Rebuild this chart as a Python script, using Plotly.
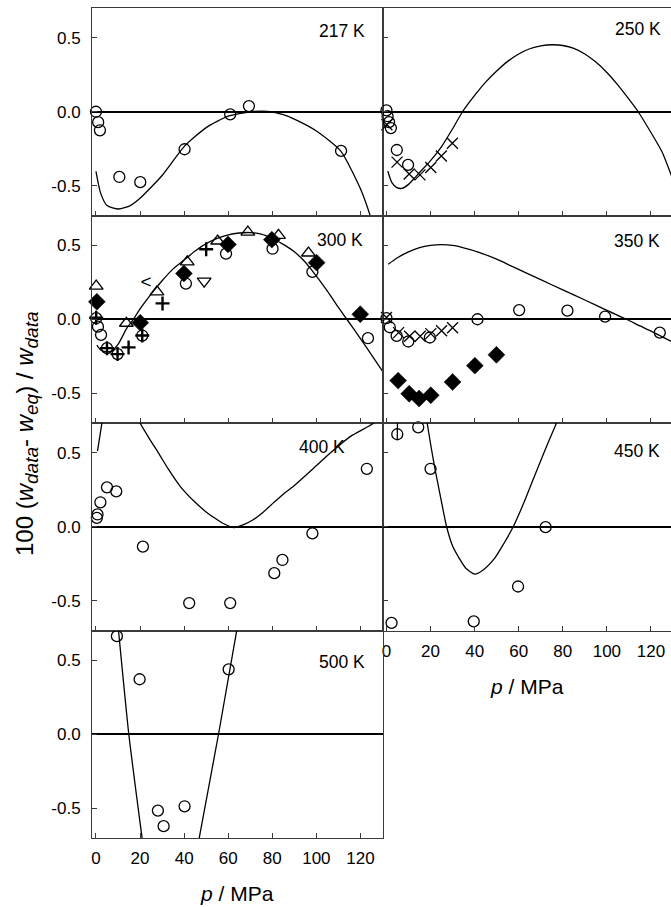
import plotly.graph_objects as go

# ---------------- data ----------------
# 217 K
t217_circ_p = [0, 1.0, 1.8, 10.6, 20.1, 40.2, 60.9, 69.4, 111.2]
t217_circ_v = [0.0, -0.07, -0.125, -0.44, -0.475, -0.253, -0.018, 0.038, -0.264]
t217_fit_p = [0, 2, 5, 10.3, 15.6, 20, 30, 40, 50, 60, 70, 78, 85, 90, 100, 111, 120, 124.4, 126]
t217_fit_v = [-0.403, -0.544, -0.633, -0.656, -0.633, -0.584, -0.43, -0.235, -0.107, -0.03, 0.0, 0.002,
              -0.02, -0.05, -0.13, -0.264, -0.52, -0.70, -0.78]

# 250 K
t250_circ_p = [0, 0.5, 1.2, 2.0, 4.7, 9.8]
t250_circ_v = [0.009, -0.03, -0.07, -0.11, -0.258, -0.358]
t250_x_p = [0.2, 4.8, 10.3, 15.2, 20.1, 24.9, 29.9]
t250_x_v = [-0.088, -0.34, -0.42, -0.426, -0.376, -0.298, -0.213]
t250_fit_p = [0.6, 2.4, 4.5, 7, 10, 13, 15, 20, 25, 30, 34.5, 40, 45, 50, 55, 60, 65, 70, 75.6, 80, 85, 90,
              95, 100, 105, 110, 114.2, 120, 125, 129.5]
t250_fit_v = [-0.40, -0.477, -0.51, -0.517, -0.49, -0.443, -0.41, -0.33, -0.235, -0.115, 0.0, 0.11, 0.2, 0.275,
              0.34, 0.39, 0.425, 0.445, 0.452, 0.447, 0.428, 0.39, 0.335, 0.265, 0.18, 0.085, 0.0, -0.14,
              -0.27, -0.44]

# 300 K
t300_tri_p = [0.1, 13.8, 27.7, 41.4, 55.2, 68.9, 82.8, 96.4]
t300_tri_v = [0.224, -0.027, 0.185, 0.387, 0.528, 0.588, 0.566, 0.447]
t300_dia_p = [0.4, 20.1, 39.9, 59.9, 79.8, 100.1, 119.9]
t300_dia_v = [0.118, -0.023, 0.309, 0.505, 0.537, 0.382, 0.034]
t300_circ_p = [0.1, 0.9, 2.3, 5.0, 9.8, 21.0, 40.8, 59.0, 80.1, 98.2, 123.4]
t300_circ_v = [0.007, -0.05, -0.105, -0.195, -0.235, -0.11, 0.241, 0.443, 0.476, 0.32, -0.128]
t300_plus_p = [0.1, 5.0, 9.8, 14.8, 21.0, 30.2, 50.0]
t300_plus_v = [0.01, -0.195, -0.235, -0.19, -0.11, 0.107, 0.472]
t300_lt_p = [22.7]
t300_lt_v = [0.246]
t300_tdn_p = [49.1]
t300_tdn_v = [0.257]
t300_fit_p = [0.4, 2, 4.5, 7, 10, 14, 17, 20, 25, 30, 35, 40, 45, 50, 55, 60, 65, 70, 75, 80, 85, 90, 95,
              98, 105, 110, 113.8, 120, 125, 130]
t300_fit_v = [-0.175, -0.205, -0.22, -0.215, -0.17, -0.06, 0.0, 0.07, 0.17, 0.26, 0.34, 0.40, 0.46, 0.51,
              0.545, 0.57, 0.582, 0.585, 0.575, 0.545, 0.505, 0.455, 0.385, 0.33, 0.19, 0.08, 0.0, -0.13,
              -0.24, -0.35]

# 350 K
t350_circ_p = [0, 1.5, 4.6, 9.9, 19.7, 41.3, 60.2, 82.1, 99.2, 124]
t350_circ_v = [0.007, -0.054, -0.112, -0.15, -0.123, 0.0, 0.062, 0.058, 0.018, -0.09]
t350_x_p = [0, 5.5, 10.5, 15.3, 20.1, 25, 30]
t350_x_v = [0.012, -0.09, -0.115, -0.115, -0.097, -0.078, -0.057]
t350_dia_p = [5.3, 10.3, 14.8, 20.1, 30.0, 40.1, 49.9]
t350_dia_v = [-0.414, -0.503, -0.535, -0.513, -0.423, -0.313, -0.24]
t350_fit_p = [0.8, 5, 10, 15, 20, 25, 30, 35, 42, 50, 57.5, 70, 80, 90, 100, 108.9, 115, 120, 130]
t350_fit_v = [0.371, 0.415, 0.454, 0.483, 0.498, 0.503, 0.498, 0.482, 0.452, 0.405, 0.353, 0.267, 0.198,
              0.13, 0.06, 0.0, -0.045, -0.08, -0.155]

# 400 K
t400_circ_p = [0.4, 0.7, 2.0, 5.0, 9.2, 21.3, 42.3, 60.9, 80.9, 84.6, 98.2, 122.9]
t400_circ_v = [0.06, 0.083, 0.165, 0.266, 0.239, -0.134, -0.515, -0.515, -0.313, -0.224, -0.045, 0.391]
t400_fit_p = [0.7, 2.7, 3.0, None, 19.5, 20.1, 24, 28.4, 33, 38.2, 45, 50, 54.9, 58, 62.4, 67, 71.5, 76, 80.5,
              85, 89.6, 98, 106.3, 115.3, 125.9, 127]
t400_fit_v = [0.51, 0.70, 0.73, None, 0.73, 0.698, 0.60, 0.497, 0.385, 0.273, 0.165, 0.10, 0.049, 0.02,
              -0.005, 0.015, 0.049, 0.1, 0.161, 0.22, 0.273, 0.385, 0.497, 0.608, 0.698, 0.72]

# 450 K
t450_circ_p = [2.3, 4.9, 14.4, 20.0, 39.6, 59.7, 72.2]
t450_circ_v = [-0.649, 0.624, 0.671, 0.391, -0.638, -0.403, -0.003]
t450_fit_p = [4.9, 5.0, None, 18.3, 18.5, 20, 22, 24, 27.3, 30, 33.3, 36, 40.1, 44, 49.2, 53, 57.5, 62, 66.5,
              72, 77.1, 78]
t450_fit_v = [0.586, 0.72, None, 0.72, 0.698, 0.56, 0.39, 0.24, 0.0, -0.13, -0.22, -0.28, -0.32, -0.29,
              -0.21, -0.12, 0.0, 0.15, 0.317, 0.52, 0.698, 0.73]

# 500 K
t500_circ_p = [9.5, 19.8, 28.1, 30.7, 40.2, 60.2]
t500_circ_v = [0.662, 0.371, -0.515, -0.62, -0.486, 0.438]
t500_fit_p = [10.1, 14.9, 21.1, None, 46.6, 55.6, 64.1]
t500_fit_v = [0.72, 0.0, -0.72, None, -0.72, 0.0, 0.72]

x_ticks = [0, 20, 40, 60, 80, 100, 120]
x_ticktext = ["0", "20", "40", "60", "80", "100", "120"]
y_ticks = [-0.5, 0.0, 0.5]
y_ticktext = ["-0.5", "0.0", "0.5"]
panel_labels = ["217 K", "250 K", "300 K", "350 K", "400 K", "450 K", "500 K"]

# ---------------- layout geometry ----------------
W, H = 671, 907
ML, MT, MB, MR = 92, 8, 69, 0
PW = W - ML - MR
PH = H - MT - MB


def xp(px):
    return (px - ML) / PW


def yp(py):
    return (H - MB - py) / PH


col_px = [(92, 382.5), (382.5, 671)]
row_px = [(8, 215.5), (215.5, 423), (423, 630.5), (630.5, 838)]
col_range = [[-1.8, 130.0], [-1.8, -1.8 + (671 - 382.5) / (290.5 / 131.8)]]

# panel index -> (row, col)
panel_pos = [(0, 0), (0, 1), (1, 0), (1, 1), (2, 0), (2, 1), (3, 0)]
xlabels_on = {5, 6}  # 450 K and 500 K panels show x tick labels

FONT = "Liberation Sans, Arial, sans-serif"
FRAME = "#3a3a3a"

fig = go.Figure()


def axn(i):
    return ("x" if i == 0 else f"x{i+1}"), ("y" if i == 0 else f"y{i+1}")


def add_line(i, p, v):
    xa, ya = axn(i)
    fig.add_trace(go.Scatter(x=p, y=v, mode="lines", xaxis=xa, yaxis=ya,
                             line=dict(color="black", width=1.3, shape="spline", smoothing=0.6),
                             connectgaps=False, showlegend=False, hoverinfo="skip"))


def add_mk(i, p, v, symbol, size, lw=1.3):
    xa, ya = axn(i)
    fig.add_trace(go.Scatter(x=p, y=v, mode="markers", xaxis=xa, yaxis=ya, cliponaxis=False,
                             marker=dict(symbol=symbol, size=size, color="black",
                                         line=dict(color="black", width=lw)),
                             showlegend=False, hoverinfo="skip"))


# 217 K
add_line(0, t217_fit_p, t217_fit_v)
add_mk(0, t217_circ_p, t217_circ_v, "circle-open", 11)
# 250 K
add_line(1, t250_fit_p, t250_fit_v)
add_mk(1, t250_circ_p, t250_circ_v, "circle-open", 11)
add_mk(1, t250_x_p, t250_x_v, "x-thin-open", 11, lw=1.3)
# 300 K
add_line(2, t300_fit_p, t300_fit_v)
add_mk(2, t300_circ_p, t300_circ_v, "circle-open", 11)
add_mk(2, t300_tri_p, t300_tri_v, "triangle-up-open", 12)
add_mk(2, t300_dia_p, t300_dia_v, "diamond", 13, lw=0.5)
add_mk(2, t300_plus_p, t300_plus_v, "cross-thin-open", 10, lw=2.4)
add_mk(2, t300_tdn_p, t300_tdn_v, "triangle-down-open", 12)
fig.add_trace(go.Scatter(x=t300_lt_p, y=t300_lt_v, mode="text", text=["<"], xaxis="x3", yaxis="y3",
                         textfont=dict(family=FONT, size=19, color="black"), cliponaxis=False,
                         showlegend=False, hoverinfo="skip"))
# 350 K
add_line(3, t350_fit_p, t350_fit_v)
add_mk(3, t350_circ_p, t350_circ_v, "circle-open", 11)
add_mk(3, t350_x_p, t350_x_v, "x-thin-open", 11, lw=1.3)
add_mk(3, t350_dia_p, t350_dia_v, "diamond", 13, lw=0.5)
# 400 K
add_line(4, t400_fit_p, t400_fit_v)
add_mk(4, t400_circ_p, t400_circ_v, "circle-open", 11)
# 450 K
add_line(5, t450_fit_p, t450_fit_v)
add_mk(5, t450_circ_p, t450_circ_v, "circle-open", 11)
# 500 K
add_line(6, t500_fit_p, t500_fit_v)
add_mk(6, t500_circ_p, t500_circ_v, "circle-open", 11)

layout = dict(width=W, height=H, margin=dict(l=ML, r=MR, t=MT, b=MB, pad=0),
              paper_bgcolor="white", plot_bgcolor="white",
              font=dict(family=FONT, size=17, color="black"), showlegend=False)

for i, (r, c) in enumerate(panel_pos):
    xa_key = "xaxis" if i == 0 else f"xaxis{i+1}"
    ya_key = "yaxis" if i == 0 else f"yaxis{i+1}"
    xa, ya = axn(i)
    x0, x1 = col_px[c]
    y0, y1 = row_px[r]
    layout[xa_key] = dict(domain=[xp(x0), xp(x1)], range=col_range[c], anchor=ya,
                          tickvals=x_ticks, ticktext=x_ticktext, ticks="inside", ticklen=5,
                          tickwidth=1, tickcolor=FRAME, showline=True, linecolor=FRAME, linewidth=1,
                          mirror=True, showgrid=False, zeroline=False,
                          showticklabels=(i in xlabels_on), ticklabelstandoff=5,
                          tickfont=dict(family=FONT, size=17, color="black"))
    layout[ya_key] = dict(domain=[yp(y1), yp(y0)], range=[-0.7, 0.7], anchor=xa,
                          tickvals=y_ticks, ticktext=y_ticktext, ticks="inside", ticklen=5,
                          tickwidth=1, tickcolor=FRAME, showline=True, linecolor=FRAME, linewidth=1,
                          mirror=(c == 0), showgrid=False, zeroline=True, zerolinecolor="black",
                          zerolinewidth=1.6, showticklabels=(c == 0), ticklabelstandoff=7,
                          tickfont=dict(family=FONT, size=17, color="black"))

fig.update_layout(**layout)

# panel labels (right edge px, centre y px)
label_px = [(367, 30.5), (663, 29.5), (365, 239.5), (662, 241.5), (347, 447), (662, 451), (367, 662)]
for txt, (lx, ly) in zip(panel_labels, label_px):
    fig.add_annotation(text=txt, xref="paper", yref="paper", x=xp(lx), y=yp(ly),
                       xanchor="right", yanchor="middle", showarrow=False,
                       font=dict(family=FONT, size=17.5, color="black"))

# axis titles
for cx, cy in [(237, 893), (527, 686)]:
    fig.add_annotation(text="<i>p</i> / MPa", xref="paper", yref="paper", x=xp(cx), y=yp(cy),
                       xanchor="center", yanchor="middle", showarrow=False,
                       font=dict(family=FONT, size=21, color="black"))

SUB = "<sub><span style='font-size:19px'><i>%s</i></span></sub>"
ytitle = ("100 (<i>w</i>" + SUB % "data" + "- <i>w</i>" + SUB % "eq" + ") / <i>w</i>" + SUB % "data")
fig.add_annotation(text=ytitle, xref="paper", yref="paper", x=xp(26), y=yp(434), textangle=-90,
                   xanchor="center", yanchor="middle", showarrow=False,
                   font=dict(family=FONT, size=24, color="black"))

fig.write_html("out.html")
